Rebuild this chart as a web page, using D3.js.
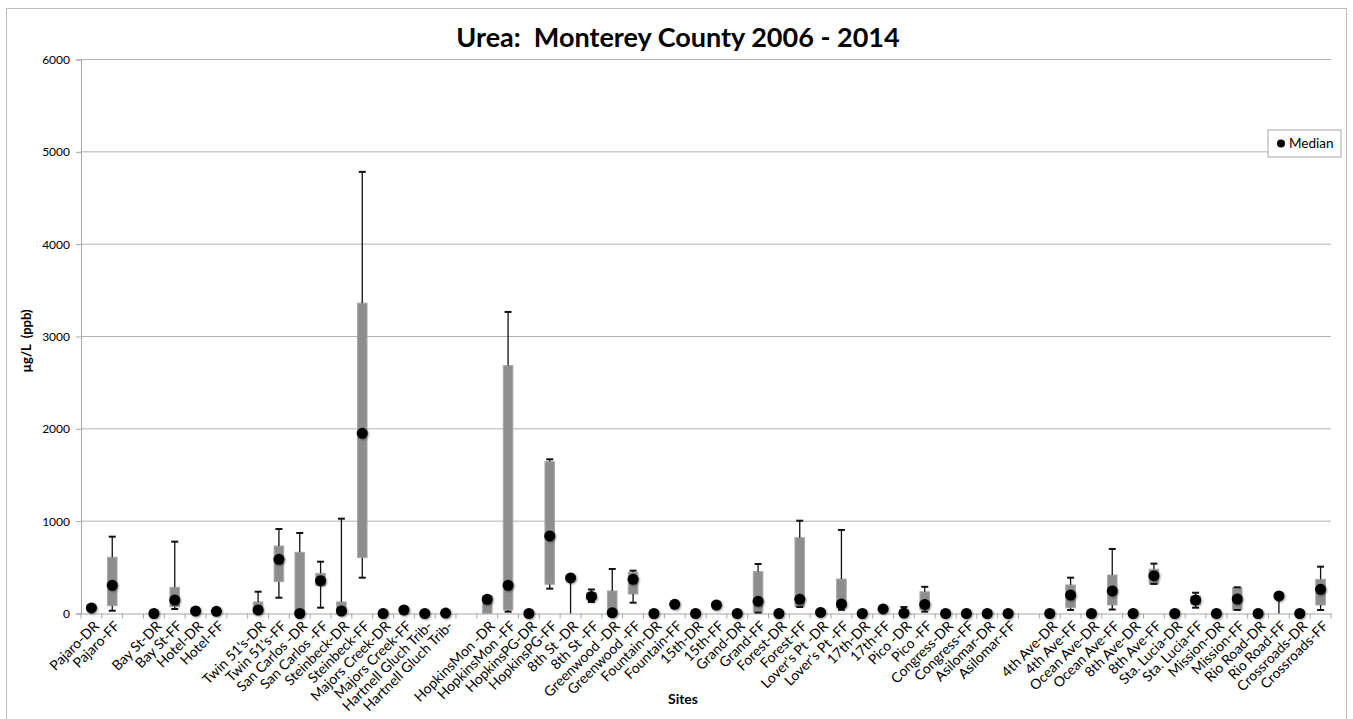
<!DOCTYPE html>
<html>
<head>
<meta charset="utf-8">
<script src="https://cdn.jsdelivr.net/npm/d3@7"></script>
<style>
body { margin: 0; background: #fff; }
text { font-family: Lato, "Open Sans", sans-serif; white-space: pre; }
</style>
</head>
<body>
<div id="chart"></div>
<script>
// site names ("" = empty gap category)
var sites = ["Pajaro-DR","Pajaro-FF","","Bay St-DR","Bay St-FF","Hotel-DR","Hotel-FF","",
  "Twin 51's-DR","Twin 51's-FF","San Carlos -DR","San Carlos -FF","Steinbeck-DR","Steinbeck-FF",
  "Majors Creek-DR","Majors Creek-FF","Hartnell Gluch Trib-","Hartnell Gluch Trib-","",
  "HopkinsMon -DR","HopkinsMon -FF","HopkinsPG-DR","HopkinsPG-FF","8th St -DR","8th St -FF",
  "Greenwood -DR","Greenwood -FF","Fountain-DR","Fountain-FF","15th-DR","15th-FF","Grand-DR","Grand-FF",
  "Forest-DR","Forest-FF","Lover's Pt -DR","Lover's Pt -FF","17th-DR","17th-FF","Pico -DR","Pico -FF",
  "Congress-DR","Congress-FF","Asilomar-DR","Asilomar-FF","",
  "4th Ave-DR","4th Ave-FF","Ocean Ave-DR","Ocean Ave-FF","8th Ave-DR","8th Ave-FF",
  "Sta. Lucia-DR","Sta. Lucia-FF","Mission-DR","Mission-FF","Rio Road-DR","Rio Road-FF",
  "Crossroads-DR","Crossroads-FF"];

var medians = [60,305,null,0,146,27,24,null,
  38,587,0,355,27,1952,
  0,38,0,5,null,
  153,305,0,840,385,185,
  8,370,0,99,0,92,0,132,
  0,153,12,102,0,50,5,98,
  0,0,0,0,null,
  0,200,0,244,0,410,
  0,146,0,157,0,190,
  0,262];

var q1 = [50,85,null,0,74,20,18,null,
  0,345,0,300,0,605,
  0,30,0,0,null,
  0,38,0,316,385,150,
  0,211,0,90,0,85,0,13,
  0,74,5,60,0,45,0,40,
  0,0,0,0,null,
  0,63,0,92,0,320,
  0,100,0,38,0,190,
  0,92];

var q3 = [70,609,null,0,284,35,30,null,
  125,731,663,435,125,3361,
  0,45,0,10,null,
  190,2685,0,1645,385,225,
  244,446,0,108,0,100,0,453,
  0,821,20,373,0,55,10,235,
  0,0,0,0,null,
  0,309,0,417,0,479,
  0,190,0,280,0,190,
  0,370];

var lows = [50,30,null,0,49,20,18,null,
  0,171,0,63,0,388,
  0,30,0,0,null,
  0,20,0,269,0,125,
  0,117,0,90,0,85,0,10,
  0,70,5,40,0,45,0,20,
  0,0,0,0,null,
  0,38,0,43,0,320,
  0,63,0,38,0,0,
  0,38];

var highs = [70,832,null,0,778,35,30,null,
  236,915,872,561,1027,4783,
  0,45,0,10,null,
  190,3266,0,1670,385,260,
  482,464,0,108,0,100,0,536,
  0,1005,25,905,0,55,70,289,
  0,0,0,0,null,
  0,388,0,699,0,540,
  0,225,0,284,0,190,
  0,507];

var yTicks = [0,1000,2000,3000,4000,5000,6000];

var width = 1353, height = 719;
var plotLeft = 81, plotRight = 1331, plotTop = 59.5, plotBottom = 613.5;

var svg = d3.select("#chart").append("svg")
  .attr("width", width)
  .attr("height", height);

var defs = svg.append("defs");
var f = defs.append("filter").attr("id", "soft")
  .attr("x", "-50%").attr("y", "-50%").attr("width", "200%").attr("height", "200%");
f.append("feGaussianBlur").attr("in", "SourceAlpha").attr("stdDeviation", 1.2).attr("result", "b");
f.append("feOffset").attr("in", "b").attr("dx", 0.5).attr("dy", 1).attr("result", "o");
f.append("feComponentTransfer").attr("in", "o").attr("result", "s")
  .append("feFuncA").attr("type", "linear").attr("slope", 0.45);
var fm = f.append("feMerge");
fm.append("feMergeNode").attr("in", "s");
fm.append("feMergeNode").attr("in", "SourceGraphic");

// outer frame
svg.append("rect")
  .attr("x", 6.5).attr("y", 8.5)
  .attr("width", 1340).attr("height", 740)
  .attr("fill", "#fff")
  .attr("stroke", "#bdbdbd");

var x = d3.scaleBand()
  .domain(d3.range(sites.length))
  .range([plotLeft, plotRight])
  .padding(0);

var y = d3.scaleLinear()
  .domain([0, 6000])
  .range([plotBottom, plotTop]);

// gridlines
svg.append("g").selectAll("line")
  .data(yTicks.filter(function(d) { return d > 0; }))
  .enter().append("line")
  .attr("x1", plotLeft).attr("x2", plotRight)
  .attr("y1", function(d) { return y(d); })
  .attr("y2", function(d) { return y(d); })
  .attr("stroke", "#b3b3b3")
  .attr("stroke-width", 1);

// y axis
var yAxis = svg.append("g")
  .attr("transform", "translate(" + plotLeft + ",0)")
  .call(d3.axisLeft(y).tickValues(yTicks).tickSize(5).tickPadding(6).tickFormat(d3.format("d")));
yAxis.select(".domain").attr("stroke", "#a6a6a6");
yAxis.selectAll(".tick line").attr("stroke", "#a6a6a6");
yAxis.selectAll("text").attr("font-size", 12).attr("fill", "#000")
  .style("font-family", "Lato, sans-serif");

// x axis
var xAxis = svg.append("g")
  .attr("transform", "translate(0," + plotBottom + ")")
  .call(d3.axisBottom(x).tickSize(0).tickFormat(function(i) { return sites[i]; }));
xAxis.select(".domain").attr("stroke", "#a6a6a6");
xAxis.selectAll("text")
  .attr("font-size", 14)
  .attr("fill", "#000")
  .style("font-family", "Lato, sans-serif")
  .attr("text-anchor", "end")
  .attr("transform", "translate(5,10) rotate(-45)")
  .attr("dy", "0.35em")
  .attr("y", 0);

// category boundary ticks
svg.append("g").selectAll("line")
  .data(d3.range(sites.length + 1))
  .enter().append("line")
  .attr("x1", function(i) { return plotLeft + i * x.bandwidth(); })
  .attr("x2", function(i) { return plotLeft + i * x.bandwidth(); })
  .attr("y1", plotBottom).attr("y2", plotBottom + 5)
  .attr("stroke", "#a6a6a6");

var idx = d3.range(sites.length).filter(function(i) { return medians[i] !== null; });
var boxW = x.bandwidth() * 0.46;
var capW = 7;

function cx(i) { return x(i) + x.bandwidth() / 2; }

var g = svg.append("g");

// boxes (q1 - q3)
g.selectAll(".box")
  .data(idx.filter(function(i) { return q3[i] > q1[i]; }))
  .enter().append("rect")
  .attr("class", "box")
  .attr("x", function(i) { return cx(i) - boxW / 2; })
  .attr("width", boxW)
  .attr("y", function(i) { return y(q3[i]); })
  .attr("height", function(i) { return y(q1[i]) - y(q3[i]); })
  .attr("fill", "#8e8e8e")
  .attr("stroke", "#a9a9a9")
  .attr("stroke-width", 1);

// whiskers
g.selectAll(".wUp")
  .data(idx.filter(function(i) { return highs[i] > q3[i]; }))
  .enter().append("line")
  .attr("x1", cx).attr("x2", cx)
  .attr("y1", function(i) { return y(q3[i]); })
  .attr("y2", function(i) { return y(highs[i]); })
  .attr("stroke", "#111").attr("stroke-width", 1.3);

g.selectAll(".wDown")
  .data(idx.filter(function(i) { return lows[i] < q1[i]; }))
  .enter().append("line")
  .attr("x1", cx).attr("x2", cx)
  .attr("y1", function(i) { return y(q1[i]); })
  .attr("y2", function(i) { return y(lows[i]); })
  .attr("stroke", "#111").attr("stroke-width", 1.3);

// caps
g.selectAll(".capHi")
  .data(idx.filter(function(i) { return highs[i] > 0; }))
  .enter().append("line")
  .attr("x1", function(i) { return cx(i) - capW / 2; })
  .attr("x2", function(i) { return cx(i) + capW / 2; })
  .attr("y1", function(i) { return y(highs[i]); })
  .attr("y2", function(i) { return y(highs[i]); })
  .attr("stroke", "#111").attr("stroke-width", 2);

g.selectAll(".capLo")
  .data(idx.filter(function(i) { return lows[i] > 0; }))
  .enter().append("line")
  .attr("x1", function(i) { return cx(i) - capW / 2; })
  .attr("x2", function(i) { return cx(i) + capW / 2; })
  .attr("y1", function(i) { return y(lows[i]); })
  .attr("y2", function(i) { return y(lows[i]); })
  .attr("stroke", "#111").attr("stroke-width", 2);

// medians
g.selectAll(".med")
  .data(idx)
  .enter().append("circle")
  .attr("cx", cx)
  .attr("cy", function(i) { return y(medians[i]); })
  .attr("r", 5.5)
  .attr("fill", "#000")
  .attr("filter", "url(#soft)");

// title
svg.append("text")
  .attr("x", 678).attr("y", 47)
  .attr("text-anchor", "middle")
  .attr("font-size", 27)
  .attr("font-weight", "bold")
  .text("Urea:  Monterey County 2006 - 2014");

// axis titles
svg.append("text")
  .attr("transform", "translate(31,341) rotate(-90)")
  .attr("text-anchor", "middle")
  .attr("font-size", 13)
  .attr("font-weight", "bold")
  .text("\u00b5g/L  (ppb)");

svg.append("text")
  .attr("x", 683).attr("y", 704)
  .attr("text-anchor", "middle")
  .attr("font-size", 14)
  .attr("font-weight", "bold")
  .text("Sites");

// legend
var lg = svg.append("g").attr("transform", "translate(1268,130)");
lg.append("rect")
  .attr("width", 73).attr("height", 27)
  .attr("fill", "#fff").attr("stroke", "#a6a6a6");
lg.append("circle").attr("cx", 13).attr("cy", 13.5).attr("r", 4).attr("fill", "#000");
lg.append("text").attr("x", 21).attr("y", 18).attr("font-size", 13.5).text("Median");
</script>
</body>
</html>
